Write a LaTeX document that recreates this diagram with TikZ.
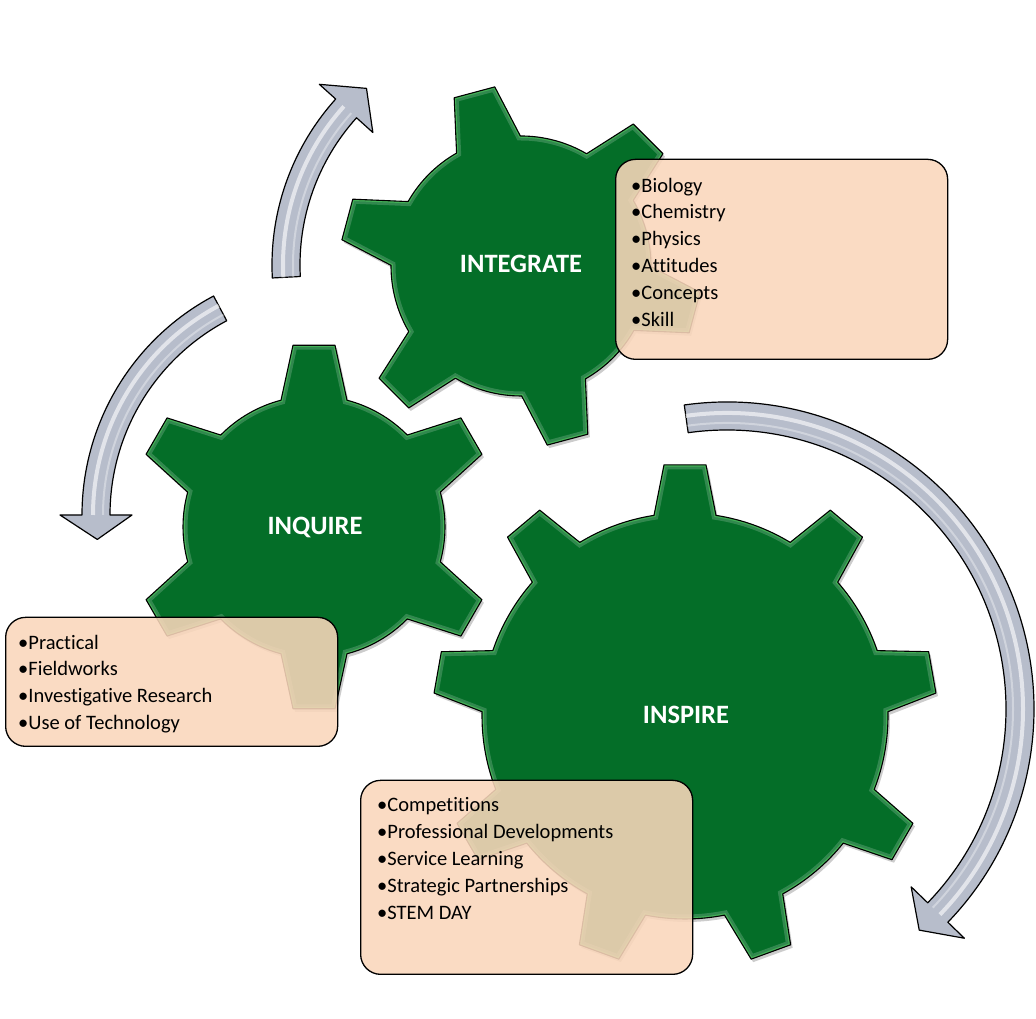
\documentclass[tikz,border=0pt]{standalone}
\usepackage{fontspec}
\setmainfont{Carlito}[Ligatures={NoCommon}]
\definecolor{gearG}{RGB}{4,110,40}
\definecolor{boxF}{RGB}{250,215,187}
\definecolor{arrF}{RGB}{183,189,203}
\tikzset{
  gearlabel/.style={text=white, font=\fontsize{26.5}{30}\selectfont\bfseries, inner sep=0},
  boxshape/.style={draw=black, line width=1.3, rounded corners=20, fill=boxF, fill opacity=0.88,
    minimum width=332, minimum height=#1, inner sep=0, anchor=south west},
  boxtext/.style={font=\fontsize{20.5}{26.8}\selectfont, align=left, inner sep=0, anchor=north west},
  arrowbody/.style={fill=arrF, draw=black, line width=1.2, line join=round},
}
\newcommand\mygp[1]{\path[#1] ({\ga-\gbb}:\gR) \foreach \k in {0,...,\glast}{ -- ({\ga+\k*\gst-\gbt}:\gRt) -- ({\ga+\k*\gst+\gbt}:\gRt) -- ({\ga+\k*\gst+\gbb}:\gR) arc[start angle={\ga+\k*\gst+\gbb}, end angle={\ga+(\k+1)*\gst-\gbb}, radius=\gR]} -- cycle;}
\newcommand\mygear[8]{%
  \def\gR{#3}\def\gRt{#4}\def\ga{#5}%
  \pgfmathsetmacro\gst{360/#6}%
  \pgfmathsetmacro\gbb{asin(#7/#3)}%
  \pgfmathsetmacro\gbt{asin(#8/#4)}%
  \pgfmathtruncatemacro\glast{#6-1}%
  \begin{scope}[shift={(#1,#2)}]
    \mygp{fill=black, opacity=.2, xshift=2, yshift=-3}
    \mygp{fill=gearG}
    \begin{scope}\mygp{clip}
      \mygp{draw=white, opacity=.18, line width=9}
      \mygp{draw=green!60!white, opacity=.35, line width=3.5}
    \end{scope}
    \mygp{draw=black, line width=1.1, line join=round}
  \end{scope}}
\newcommand\cycarrow[8]{%
  \begin{scope}[shift={(#1,#2)}]
    \path[arrowbody] ({#6}:{#3+#4}) arc[start angle=#6, end angle=#7, radius=#3+#4]
      -- ({#7}:{#3+#5}) -- ({#8}:{#3}) -- ({#7}:{#3-#5}) -- ({#7}:{#3-#4})
      arc[start angle=#7, end angle=#6, radius=#3-#4] -- cycle;
    \draw[white, opacity=.6, line width=4] ({#6}:{#3+3}) arc[start angle=#6, end angle=#7, radius=#3+3];
    \draw[white, opacity=.35, line width=2] ({#6}:{#3-7}) arc[start angle=#6, end angle=#7, radius=#3-7];
  \end{scope}}
\begin{document}
\begin{tikzpicture}[x=1pt, y=1pt]
  \fill[white] (0,0) rectangle (1036,1019);
  \useasboundingbox (0,0) rectangle (1036,1019);
  % arrows
  \cycarrow{520}{754}{234}{14}{36}{183}{138}{131}
  \cycarrow{330}{504}{234}{14}{36}{118}{180}{186}
  \cycarrow{727}{310}{293}{14}{37}{98}{-44}{-49}
  % gears
  \mygear{521}{753}{130}{181}{45}{6}{33}{21}
  \mygear{314}{492}{131}{183}{30}{6}{33}{21}
  \mygear{685}{303}{203}{252}{10}{9}{31}{21}
  \node[gearlabel] (integrate) at (521,755) {INTEGRATE};
  \node[gearlabel] (inquire) at (315,492) {INQUIRE};
  \node[gearlabel] (inspire) at (686,304) {INSPIRE};
  % boxes
  \node[boxshape=200] (b1) at (615,659) {};
  \node[boxshape=129] (b2) at (5,272) {};
  \node[boxshape=194] (b3) at (360,44) {};
  \node[boxtext] (t1) at ([xshift=16,yshift=-19]b1.north west)
    {•Biology\\•Chemistry\\•Physics\\•Attitudes\\•Concepts\\•Skill};
  \node[boxtext] (t2) at ([xshift=13,yshift=-18]b2.north west)
    {•Practical\\•Fieldworks\\•Investigative Research\\•Use of Technology};
  \node[boxtext] (t3) at ([xshift=17,yshift=-18]b3.north west)
    {•Competitions\\•Professional Developments\\•Service Learning\\•Strategic Partnerships\\•STEM DAY};
\end{tikzpicture}
\end{document}
